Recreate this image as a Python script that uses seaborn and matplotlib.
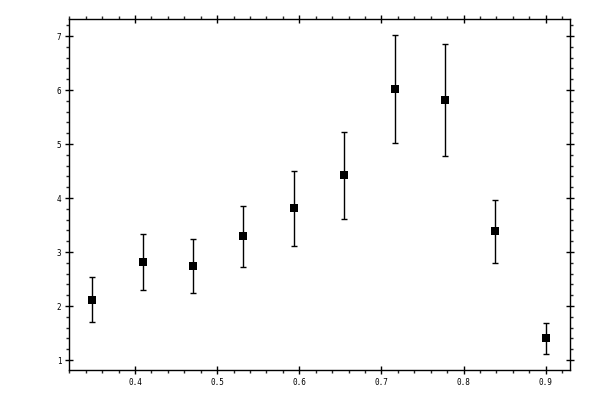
import numpy as np
import pandas as pd
import matplotlib
matplotlib.use("Agg")
import matplotlib.pyplot as plt
import seaborn as sns
from matplotlib.ticker import MultipleLocator

# ---------- DATA ----------
x_vals = [0.348, 0.410, 0.471, 0.532, 0.594, 0.654, 0.716, 0.777, 0.838, 0.900]
y_vals = [2.12, 2.81, 2.74, 3.29, 3.81, 4.42, 6.01, 5.81, 3.38, 1.40]
y_err = [0.41, 0.52, 0.50, 0.565, 0.69, 0.80, 1.00, 1.04, 0.59, 0.28]

x_ticks = [0.4, 0.5, 0.6, 0.7, 0.8, 0.9]
y_ticks = [1, 2, 3, 4, 5, 6, 7]

df = pd.DataFrame({"x": x_vals, "y": y_vals, "err": y_err})

# ---------- STYLE ----------
sns.set_style("ticks")
plt.rcParams["font.family"] = ["DejaVu Sans Mono", "DejaVu Sans"]

fig = plt.figure(figsize=(6, 4), dpi=100)
ax = fig.add_axes([0.1155, 0.075, 0.835, 0.8768])

# error bars
ax.errorbar(df["x"], df["y"], yerr=df["err"], fmt="none",
            ecolor="black", elinewidth=1.0, capsize=2.0, capthick=1.0, zorder=2)

# square markers
sns.scatterplot(data=df, x="x", y="y", marker="s", s=27, color="black",
                edgecolor="black", linewidth=0, ax=ax, zorder=3)

ax.set_xlim(0.320, 0.930)
ax.set_ylim(0.815, 7.31)
ax.set_xticks(x_ticks)
ax.set_yticks(y_ticks)
ax.set_xticklabels([f"{t:.1f}" for t in x_ticks])
ax.set_yticklabels([str(t) for t in y_ticks])
ax.xaxis.set_minor_locator(MultipleLocator(0.02))
ax.yaxis.set_minor_locator(MultipleLocator(0.2))

ax.set_xlabel("")
ax.set_ylabel("")

for side in ["top", "right", "bottom", "left"]:
    ax.spines[side].set_visible(True)
    ax.spines[side].set_linewidth(1.0)
    ax.spines[side].set_color("black")

ax.tick_params(which="major", direction="inout", length=5.4, width=1.0,
               top=True, right=True, labelsize=5.5, pad=3, colors="black")
ax.tick_params(which="minor", direction="out", length=2.4, width=1.0,
               top=True, right=True)

fig.savefig("out.png", dpi=100, facecolor="white")
